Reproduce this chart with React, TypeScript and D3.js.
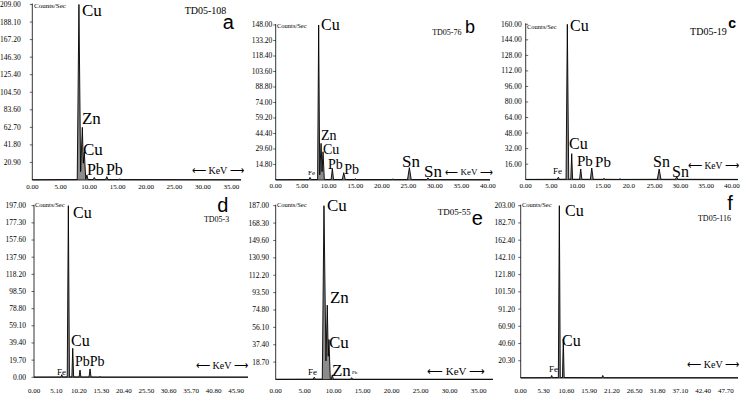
import * as d3 from "d3";

type Pt = [number, number];

// EDS spectra, [keV, counts/sec]
const spectrumA: Pt[] = [
  [0, 0.3], [6.3, 0.5], [7.9, 0.5], [8.2, 209], [8.5, 10], [8.8, 62.7], [8.97, 20],
  [9.14, 33.6], [9.4, 1], [9.6, 6], [9.8, 0.5], [10.7, 0.5], [10.9, 3], [11.1, 0.5],
  [12.9, 0.5], [13.1, 4], [13.3, 0.5], [15.2, 0.5], [15.4, 1.2], [15.6, 0.5], [36.7, 0.3],
];
const spectrumB: Pt[] = [
  [0, 0.3], [6.25, 0.4], [6.47, 2.5], [6.7, 0.4], [7.9, 0.5], [8.1, 148], [8.3, 5],
  [8.55, 35], [8.74, 8], [8.92, 27], [9.17, 0.5], [10.45, 0.5], [10.68, 11], [10.9, 0.5],
  [12.55, 0.5], [12.83, 7], [13.1, 0.5], [14.8, 0.4], [15, 1.2], [15.2, 0.4], [21.9, 0.4],
  [22.1, 0.9], [22.3, 0.4], [24.85, 0.4], [25.2, 11.8], [25.55, 0.4], [28.45, 0.4],
  [28.7, 2], [28.95, 0.4], [40.4, 0.3],
];
const spectrumC: Pt[] = [
  [0, 0.3], [6.1, 0.4], [6.33, 2.5], [6.55, 0.4], [7.83, 0.5], [8.08, 160], [8.35, 0.5],
  [8.75, 0.5], [8.93, 26.8], [9.1, 0.5], [10.45, 0.4], [10.68, 11], [10.9, 0.4],
  [12.55, 0.4], [12.82, 12], [13.1, 0.4], [15.0, 0.4], [15.2, 1.5], [15.4, 0.4],
  [18.1, 0.3], [18.3, 1], [18.5, 0.3], [25.55, 0.4], [25.9, 11], [26.25, 0.4],
  [29.05, 0.4], [29.3, 3], [29.55, 0.4], [41.2, 0.3],
];
const spectrumD: Pt[] = [
  [0, 0.3], [6.1, 0.4], [6.3, 3], [6.5, 0.4], [7.55, 0.5], [7.8, 197], [8.05, 0.5],
  [8.6, 0.5], [8.8, 33.3], [9.0, 0.5], [10.25, 0.4], [10.45, 8.4], [10.65, 0.4],
  [12.5, 0.4], [12.73, 9.6], [12.95, 0.4], [14.8, 0.3], [15, 1], [15.2, 0.3], [48.6, 0.3],
];
const spectrumE: Pt[] = [
  [0, 0.3], [6.45, 0.4], [6.66, 2.5], [6.85, 0.4], [8.04, 0.5], [8.33, 187], [8.67, 20],
  [8.9, 80], [9.07, 25], [9.19, 43], [9.42, 1], [9.6, 0.5], [9.76, 5], [9.95, 0.4],
  [12.9, 0.3], [13.1, 2], [13.3, 0.3], [37.5, 0.3],
];
const spectrumF: Pt[] = [
  [0, 0.3], [7.0, 0.4], [7.2, 3], [7.4, 0.4], [8.75, 0.5], [8.98, 203], [9.2, 0.5],
  [9.7, 0.5], [9.9, 46], [10.1, 0.5], [18.85, 0.3], [19.07, 3], [19.3, 0.3], [50.5, 0.3],
];

// tick values
const xTicksA = [0, 5, 10, 15, 20, 25, 30, 35];
const xTicksB = [0, 5, 10, 15, 20, 25, 30, 35, 40];
const xTicksC = [0, 5, 10, 15, 20, 25, 30, 35, 40];
const xTicksD = [0, 5.1, 10.2, 15.3, 20.4, 25.5, 30.6, 35.7, 40.8, 45.9];
const xTicksE = [0, 5, 10, 15, 20, 25, 30, 35];
const xTicksF = [0, 5.3, 10.6, 15.9, 21.2, 26.5, 31.8, 37.1, 42.4, 47.7];
const xLabelsC = ["0.00", "5.00", "10.00", "15.00", "20.0", "25.00", "30.00", "35.00", "40.00"];

const yTicksA = [20.9, 41.8, 62.7, 83.6, 104.5, 125.4, 146.3, 167.2, 188.1, 209];
const yTicksB = [14.8, 29.6, 44.4, 59.2, 74, 88.8, 103.6, 118.4, 133.2, 148];
const yTicksC = [16, 32, 48, 64, 80, 96, 112, 128, 144, 160];
const yTicksD = [0, 19.7, 39.4, 59.1, 78.8, 98.5, 118.2, 137.9, 157.6, 177.3, 197];
const yTicksE = [18.7, 37.4, 56.1, 74.8, 93.5, 112.2, 130.9, 149.6, 168.3, 187];
const yTicksF = [20.3, 40.6, 60.9, 81.2, 101.5, 121.8, 142.1, 162.4, 182.7, 203];
const yLabelsF = ["20.30", "40.60", "60.90", "91.20", "101.50", "121.80", "142.10", "162.40", "182.70", "203.00"];

const KEV = "\u27F5 KeV \u27F6";
const SERIF = "'Liberation Serif', 'Times New Roman', serif";
const SANS = "'Liberation Sans', Arial, sans-serif";
const fmt = d3.format(".2f");

type Note = { text: string; kev: number; counts: number; size: number; sans?: boolean; bold?: boolean };

type PanelCfg = {
  spectrum: Pt[];
  xMax: number;
  yMax: number;
  xTicks: number[];
  xLabels?: string[];
  yTicks: number[];
  yLabels?: string[];
  left: number;
  right: number;
  top: number;
  bottom: number;
  yGap: number;
  tickIn?: boolean;
  xDy: number;
  notes: Note[];
};

const panels: PanelCfg[] = [
  {
    spectrum: spectrumA, xMax: 36.7, yMax: 209, xTicks: xTicksA, yTicks: yTicksA,
    left: 32.3, right: 241, top: 4.5, bottom: 180, yGap: 11.6, xDy: 9,
    notes: [
      { text: "Cu", kev: 8.73, counts: 195.5, size: 17 },
      { text: "Zn", kev: 8.73, counts: 66.1, size: 17 },
      { text: "Cu", kev: 8.91, counts: 29.2, size: 17 },
      { text: "Pb", kev: 9.61, counts: 5.4, size: 16 },
      { text: "Pb", kev: 12.95, counts: 5.4, size: 16 },
      { text: "TD05-108", kev: 26.8, counts: 197.5, size: 10 },
      { text: "a", kev: 33.5, counts: 179.8, size: 20, sans: true },
      { text: KEV, kev: 28.07, counts: 7.7, size: 10 },
      { text: "Counts/Sec", kev: 0.3, counts: 205.2, size: 7 },
    ],
  },
  {
    spectrum: spectrumB, xMax: 40.4, yMax: 148, xTicks: xTicksB, yTicks: yTicksB,
    left: 275.7, right: 490, top: 25, bottom: 180, yGap: 3.4, xDy: 7.8,
    notes: [
      { text: "Cu", kev: 8.55, counts: 143, size: 16 },
      { text: "Zn", kev: 8.55, counts: 38, size: 14 },
      { text: "Cu", kev: 8.92, counts: 24.5, size: 14 },
      { text: "Pb", kev: 9.87, counts: 10.8, size: 14 },
      { text: "Pb", kev: 12.9, counts: 6, size: 14 },
      { text: "Sn", kev: 23.83, counts: 12.1, size: 17 },
      { text: "Sn", kev: 27.98, counts: 2.6, size: 17 },
      { text: "Fe", kev: 6.1, counts: 4.5, size: 7 },
      { text: KEV, kev: 31.95, counts: 4.3, size: 9 },
      { text: "TD05-76", kev: 29.5, counts: 138, size: 8 },
      { text: "b", kev: 35.7, counts: 140.4, size: 18, sans: true },
      { text: "Counts/Sec", kev: 0.25, counts: 145.6, size: 6.5 },
    ],
  },
  {
    spectrum: spectrumC, xMax: 41.2, yMax: 160, xTicks: xTicksC, xLabels: xLabelsC, yTicks: yTicksC,
    left: 525.7, right: 738, top: 24.3, bottom: 179.7, yGap: 4, tickIn: true, xDy: 7.8,
    notes: [
      { text: "Cu", kev: 8.6, counts: 152.9, size: 16 },
      { text: "Cu", kev: 8.41, counts: 31.3, size: 16 },
      { text: "Pb", kev: 9.96, counts: 13.8, size: 15 },
      { text: "Pb", kev: 13.46, counts: 12.8, size: 15 },
      { text: "Fe", kev: 5.3, counts: 5.9, size: 9 },
      { text: "Sn", kev: 24.72, counts: 12.8, size: 16 },
      { text: "Sn", kev: 28.4, counts: 2.5, size: 16 },
      { text: KEV, kev: 31.5, counts: 11.5, size: 9.5 },
      { text: "TD05-19", kev: 31.9, counts: 148.5, size: 10 },
      { text: "c", kev: 39.3, counts: 156.3, size: 14, sans: true, bold: true },
      { text: "Counts/Sec", kev: 0.25, counts: 154.7, size: 6.5 },
    ],
  },
  {
    spectrum: spectrumD, xMax: 48.6, yMax: 197, xTicks: xTicksD, yTicks: yTicksD,
    left: 34, right: 248, top: 205.7, bottom: 377.3, yGap: 8, xDy: 15.2,
    notes: [
      { text: "Cu", kev: 8.86, counts: 182.9, size: 16 },
      { text: "Cu", kev: 8.4, counts: 35.9, size: 16 },
      { text: "PbPb", kev: 9.3, counts: 12.6, size: 14 },
      { text: "Fe", kev: 5.2, counts: 3, size: 9 },
      { text: KEV, kev: 36.8, counts: 9.3, size: 10 },
      { text: "d", kev: 41.6, counts: 190, size: 20, sans: true },
      { text: "TD05-3", kev: 38.6, counts: 178.5, size: 8 },
      { text: "Counts/Sec", kev: 0.23, counts: 195.2, size: 6.5 },
    ],
  },
  {
    spectrum: spectrumE, xMax: 37.5, yMax: 187, xTicks: xTicksE, yTicks: yTicksE,
    left: 275.7, right: 493, top: 205.7, bottom: 379.5, yGap: 6.7, xDy: 13,
    notes: [
      { text: "Cu", kev: 8.84, counts: 181, size: 17 },
      { text: "Zn", kev: 9.36, counts: 81.8, size: 17 },
      { text: "Cu", kev: 9.19, counts: 33.4, size: 17 },
      { text: "Zn", kev: 9.71, counts: 4.3, size: 17 },
      { text: "Pb", kev: 13.16, counts: 5.4, size: 5 },
      { text: "Fe", kev: 5.57, counts: 5.2, size: 9 },
      { text: KEV, kev: 26.1, counts: 4.6, size: 11 },
      { text: "TD05-55", kev: 27.98, counts: 177.5, size: 9 },
      { text: "e", kev: 33.85, counts: 165.7, size: 20, sans: true },
      { text: "Counts/Sec", kev: 0.22, counts: 185.3, size: 6.5 },
    ],
  },
  {
    spectrum: spectrumF, xMax: 50.5, yMax: 203, xTicks: xTicksF, yTicks: yTicksF, yLabels: yLabelsF,
    left: 520.7, right: 738, top: 205.7, bottom: 378, yGap: 5.7, xDy: 14.5,
    notes: [
      { text: "Cu", kev: 10.3, counts: 191.4, size: 16 },
      { text: "Cu", kev: 9.6, counts: 37.7, size: 16 },
      { text: "Fe", kev: 6.58, counts: 7.1, size: 9 },
      { text: KEV, kev: 38.7, counts: 11.2, size: 10 },
      { text: "f", kev: 48, counts: 197.9, size: 20, sans: true },
      { text: "TD05-116", kev: 41.2, counts: 185, size: 8 },
      { text: "Counts/Sec", kev: 0.3, counts: 201, size: 6.5 },
    ],
  },
];

function Panel({ cfg }: { cfg: PanelCfg }) {
  const x = d3.scaleLinear().domain([0, cfg.xMax]).range([cfg.left, cfg.right]);
  const y = d3.scaleLinear().domain([0, cfg.yMax]).range([cfg.bottom, cfg.top]);
  const area = d3
    .area<Pt>()
    .x((d) => x(d[0]))
    .y0(cfg.bottom)
    .y1((d) => y(d[1]));
  const line = d3
    .line<Pt>()
    .x((d) => x(d[0]))
    .y((d) => y(d[1]));
  const tickEnd = cfg.tickIn ? cfg.left + 2.5 : cfg.left - 2.5;

  return (
    <g>
      {/* spectrum */}
      <path d={area(cfg.spectrum) ?? ""} fill="#8c8c8c" />
      <path d={line(cfg.spectrum) ?? ""} fill="none" stroke="#000" strokeWidth={0.9} />

      {/* axes */}
      <line x1={cfg.left} x2={cfg.left} y1={cfg.top - 1} y2={cfg.bottom} stroke="#000" strokeWidth={0.8} />
      <line x1={cfg.left} x2={cfg.right} y1={cfg.bottom} y2={cfg.bottom} stroke="#000" strokeWidth={0.8} />

      {cfg.yTicks.map((t, i) => (
        <g key={`y-${i}`}>
          <line x1={tickEnd} x2={cfg.left} y1={y(t)} y2={y(t)} stroke="#000" strokeWidth={0.6} />
          <text
            x={cfg.left - cfg.yGap}
            y={y(t)}
            dy="0.33em"
            textAnchor="end"
            fontFamily={SERIF}
            fontSize={7.5}
          >
            {cfg.yLabels ? cfg.yLabels[i] : fmt(t)}
          </text>
        </g>
      ))}

      {cfg.xTicks.map((t, i) => (
        <text
          key={`x-${i}`}
          x={x(t)}
          y={cfg.bottom + cfg.xDy}
          textAnchor="middle"
          fontFamily={SERIF}
          fontSize={7}
        >
          {cfg.xLabels ? cfg.xLabels[i] : fmt(t)}
        </text>
      ))}

      {/* peak labels and captions */}
      {cfg.notes.map((n, i) => (
        <text
          key={`n-${i}`}
          x={x(n.kev)}
          y={y(n.counts)}
          fontFamily={n.sans ? SANS : SERIF}
          fontWeight={n.bold ? "bold" : "normal"}
          fontSize={n.size}
        >
          {n.text}
        </text>
      ))}
    </g>
  );
}

export default function App() {
  return (
    <svg
      width={743}
      height={393}
      viewBox="0 0 743 393"
      style={{ position: "absolute", left: 0, top: 0, background: "#fff" }}
    >
      {panels.map((p, i) => (
        <Panel key={i} cfg={p} />
      ))}
    </svg>
  );
}
